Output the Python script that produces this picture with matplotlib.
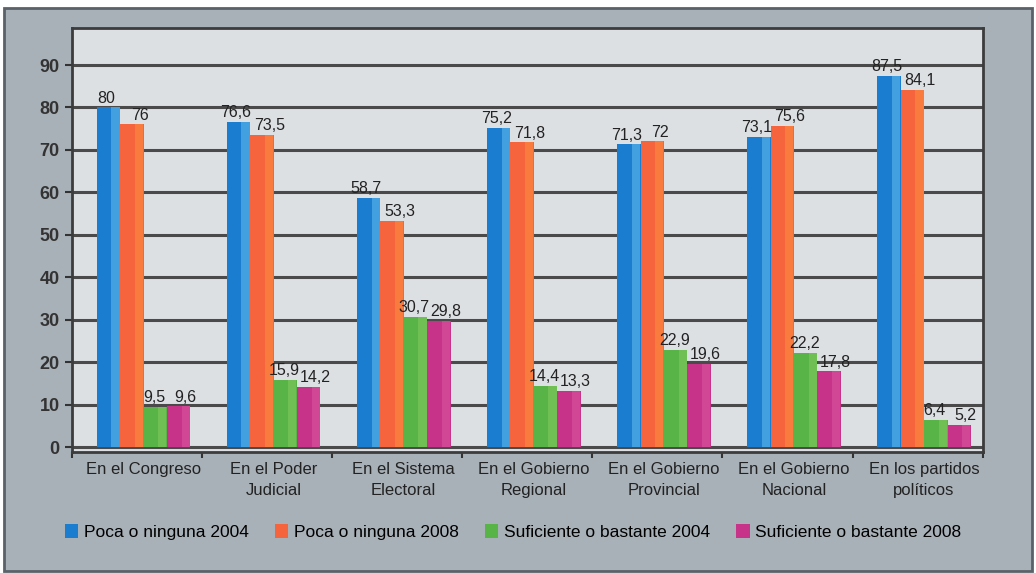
import numpy as np
import matplotlib.pyplot as plt
from matplotlib.patches import Rectangle

# ==========================================================
# DATA
# ==========================================================

categories = [
    "En el Congreso",
    "En el Poder\nJudicial",
    "En el Sistema\nElectoral",
    "En el Gobierno\nRegional",
    "En el Gobierno\nProvincial",
    "En el Gobierno\nNacional",
    "En los partidos\npolíticos",
]

poca_2004 = [80, 76.6, 58.7, 75.2, 71.3, 73.1, 87.5]
poca_2008 = [76, 73.5, 53.3, 71.8, 72, 75.6, 84.1]
suf_2004 = [9.5, 15.9, 30.7, 14.4, 22.9, 22.2, 6.4]
suf_2008 = [9.6, 14.2, 29.8, 13.3, 19.6, 17.8, 5.2]

series_names = [
    "Poca o ninguna 2004",
    "Poca o ninguna 2008",
    "Suficiente o bastante 2004",
    "Suficiente o bastante 2008",
]

y_ticks = [0, 10, 20, 30, 40, 50, 60, 70, 80, 90]

# ==========================================================
# STYLE
# ==========================================================

colors = ["#1b7dcf", "#f5643c", "#58b447", "#c8338a"]
highlights = ["#5fb8ec", "#ff8c40", "#7fc85f", "#d9559e"]

plt.rcParams["font.family"] = ["Liberation Sans", "DejaVu Sans"]

fig = plt.figure(figsize=(10.36, 5.73), dpi=100)
fig.patch.set_facecolor("white")

# outer grey frame
fig.patches.append(Rectangle((0.004, 0.004), 0.992, 0.982,
                             transform=fig.transFigure,
                             facecolor="#a9b1b8", edgecolor="#5a6168",
                             linewidth=2, zorder=-10))

ax = fig.add_axes([0.0695, 0.211, 0.879, 0.740])
ax.set_zorder(2)
ax.set_facecolor("#dde0e3")

# ==========================================================
# BARS
# ==========================================================

x = np.arange(len(categories))
bar_w = 0.18
offsets = np.array([-1.5, -0.5, 0.5, 1.5]) * bar_w + 0.05
label_shift = [-0.02, 0.06, -0.01, 0.05]
all_series = [poca_2004, poca_2008, suf_2004, suf_2008]

for i, vals in enumerate(all_series):
    pos = x + offsets[i]
    ax.bar(pos, vals, width=bar_w, color=colors[i],
           label=series_names[i], zorder=3)
    # lighter edge on the right side of each bar
    ax.bar(pos + bar_w * 0.3, vals, width=bar_w * 0.35,
           color=highlights[i], alpha=0.6, zorder=4)
    for px, v in zip(pos, vals):
        txt = f"{v:g}".replace(".", ",")
        ax.text(px + label_shift[i], v + 0.4, txt, ha="center", va="bottom",
                fontsize=11.5, color="#222222", zorder=5)

# ==========================================================
# AXES
# ==========================================================

ax.set_xlim(-0.5, len(categories) - 0.5)
ax.set_ylim(-1.2, 98.7)

ax.set_yticks(y_ticks)
ax.set_yticklabels([str(t) for t in y_ticks], fontsize=13,
                   fontweight="bold", color="#333333")
ax.yaxis.grid(True, color="#4a4a4a", linewidth=2.2, zorder=1)
ax.set_axisbelow(True)

ax.set_xticks(x + 0.05)
ax.set_xticklabels(categories, fontsize=12, color="#222222",
                   linespacing=1.55)
ax.tick_params(axis="x", length=0, pad=7)
ax.set_xticks(np.arange(len(categories) + 1) - 0.5, minor=True)
ax.tick_params(axis="x", which="minor", length=4, width=1.5,
               color="#333333")
ax.tick_params(axis="y", length=5, width=1.5, color="#333333", pad=4)

for side in ["left", "bottom", "top", "right"]:
    ax.spines[side].set_color("#3c3c3c")
    ax.spines[side].set_linewidth(2)

# ==========================================================
# LEGEND
# ==========================================================

fig.legend(loc="lower center", bbox_to_anchor=(0.495, 0.03), ncol=4,
           frameon=False, fontsize=12.5, handlelength=0.8,
           handleheight=0.9, handletextpad=0.3, columnspacing=1.5)

plt.savefig("out.png", dpi=100)
